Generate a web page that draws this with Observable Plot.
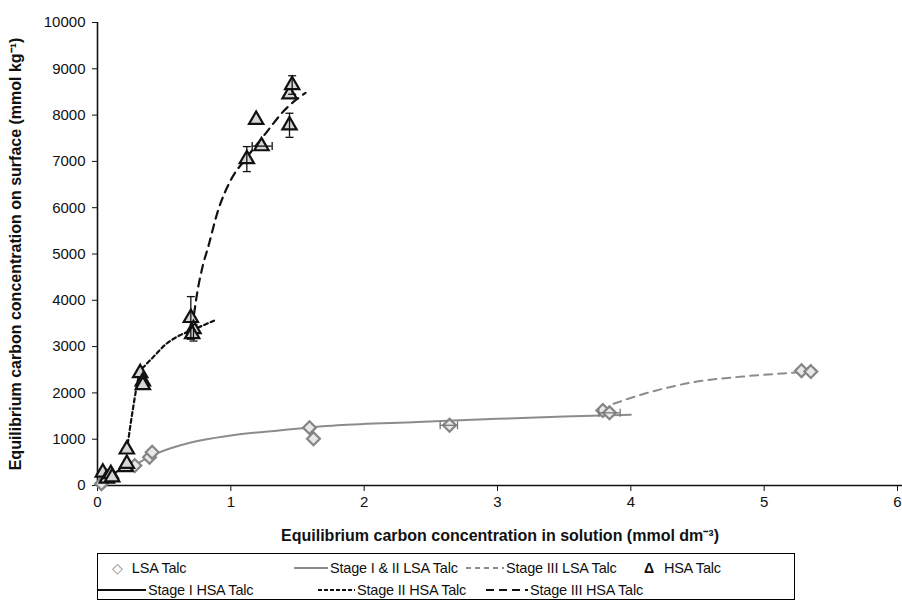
<!DOCTYPE html>
<html><head><meta charset="utf-8">
<script src="https://cdn.jsdelivr.net/npm/d3@7"></script>
<script src="https://cdn.jsdelivr.net/npm/@observablehq/plot@0.6"></script>
<style>
body{margin:0;background:#fff;font-family:"Liberation Sans",Arial,sans-serif;}
#wrap{position:relative;width:902px;height:604px;overflow:hidden;background:#fff;}
#wrap svg{position:absolute;left:0;top:0;overflow:visible;}
g[aria-label="x-axis label"] text, g[aria-label="y-axis label"] text{font-weight:bold;font-size:16px;}
#legend{position:absolute;left:97px;top:553px;width:698px;height:47px;border:1px solid #000;box-sizing:border-box;font-size:14.5px;color:#111;letter-spacing:-0.2px;}
.item{position:absolute;display:flex;align-items:center;white-space:nowrap;height:18px;}
.item svg{position:static !important;margin-right:2px;}
</style></head>
<body><div id="wrap"><div id="legend"></div></div>
<script>
// ---- data ----
const lsaX = [0.03, 0.28, 0.39, 0.41, 1.59, 1.62, 2.64, 3.79, 3.84, 5.28, 5.35];
const lsaY = [40, 430, 610, 720, 1250, 1010, 1300, 1620, 1570, 2480, 2460];
const hsaX = [0.04, 0.07, 0.10, 0.11, 0.21, 0.22, 0.22, 0.32, 0.34, 0.34, 0.70, 0.72, 0.71, 1.12, 1.23, 1.19, 1.44, 1.44, 1.46];
const hsaY = [280, 150, 250, 180, 400, 470, 780, 2430, 2250, 2170, 3620, 3380, 3270, 7050, 7330, 7900, 7780, 8450, 8650];

// vertical error bars (x, low, high)
const errVX = [0.70, 0.72, 1.12, 1.44, 1.46];
const errVLo = [3160, 3120, 6780, 7520, 8450];
const errVHi = [4080, 3480, 7320, 8040, 8850];
// horizontal error bars (y, low, high)
const errHY = [7330, 1300, 1570];
const errHLo = [1.16, 2.57, 3.76];
const errHHi = [1.31, 2.70, 3.92];
const errHColor = ["#111", "#777", "#777"];

// fitted curves
const lsaStage12X = [0.20, 0.28, 0.45, 0.70, 1.00, 1.36, 1.80, 2.40, 3.00, 3.50, 4.00];
const lsaStage12Y = [330, 450, 700, 930, 1080, 1190, 1300, 1370, 1440, 1490, 1530];
const lsaStage3X = [3.87, 4.10, 4.47, 4.84, 5.21, 5.30];
const lsaStage3Y = [1765, 1980, 2231, 2354, 2434, 2450];
const hsaStage1X = [0.03, 0.10, 0.21];
const hsaStage1Y = [120, 220, 420];
const hsaStage2X = [0.22, 0.26, 0.32, 0.36, 0.417, 0.516, 0.615, 0.713, 0.874];
const hsaStage2Y = [750, 1550, 2450, 2600, 2770, 3060, 3240, 3360, 3560];
const hsaStage3X = [0.71, 0.75, 0.79, 0.83, 0.90, 1.00, 1.11, 1.26, 1.40, 1.56];
const hsaStage3Y = [3400, 4200, 4750, 5150, 5900, 6600, 7050, 7600, 8100, 8480];

const xTicks = [0, 1, 2, 3, 4, 5, 6];
const yTicks = [0, 1000, 2000, 3000, 4000, 5000, 6000, 7000, 8000, 9000, 10000];

const legendRow1 = ["LSA Talc", "Stage I & II LSA Talc", "Stage III LSA Talc", "HSA Talc"];
const legendRow2 = ["Stage I HSA Talc", "Stage II HSA Talc", "Stage III HSA Talc"];

// ---- build tables ----
const zip = (xs, ys) => xs.map((x, i) => ({x, y: ys[i]}));
const lsa = zip(lsaX, lsaY);
const hsa = zip(hsaX, hsaY);
const errV = errVX.map((x, i) => ({x, lo: errVLo[i], hi: errVHi[i]}));
const errH = errHY.map((y, i) => ({y, lo: errHLo[i], hi: errHHi[i], c: errHColor[i]}));

const capH = {draw(ctx) { ctx.moveTo(-4, 0); ctx.lineTo(4, 0); }};
const capV = {draw(ctx) { ctx.moveTo(0, -4); ctx.lineTo(0, 4); }};

const chart = Plot.plot({
  width: 902, height: 545,
  marginLeft: 97, marginRight: 0, marginTop: 22, marginBottom: 60,
  style: {fontFamily: "'Liberation Sans', Arial, sans-serif", fontSize: "15px", color: "#111", background: "transparent"},
  x: {domain: [0, 6], range: [97, 897]},
  y: {domain: [0, 10000]},
  marks: [
    Plot.axisX({ticks: xTicks, tickSize: 6, tickPadding: 5, tickFormat: d => String(d),
      label: "Equilibrium carbon concentration in solution (mmol dm⁻³)", labelAnchor: "center", labelArrow: "none", labelOffset: 55}),
    Plot.axisY({ticks: yTicks, tickSize: 5, tickPadding: 7, tickFormat: d => String(d),
      label: "Equilibrium carbon concentration on surface (mmol kg⁻¹)", labelAnchor: "center", labelArrow: "none", labelOffset: 88}),
    Plot.ruleY([0], {x1: 0, x2: 6.1, stroke: "#111", strokeWidth: 1.6, clip: false}),
    Plot.ruleX([0], {stroke: "#111", strokeWidth: 1.6}),
    // LSA curves
    Plot.line(zip(lsaStage12X, lsaStage12Y), {x: "x", y: "y", curve: "monotone-x", stroke: "#8c8c8c", strokeWidth: 2}),
    Plot.line(zip(lsaStage3X, lsaStage3Y), {x: "x", y: "y", curve: "monotone-x", stroke: "#8c8c8c", strokeWidth: 2, strokeDasharray: "8,6"}),
    // LSA points
    Plot.dot(lsa, {x: "x", y: "y", symbol: "diamond2", r: 5.8, stroke: "#858585", strokeWidth: 2.2, fill: "#e8e8e8"}),
    // HSA curves
    Plot.line(zip(hsaStage1X, hsaStage1Y), {x: "x", y: "y", stroke: "#111", strokeWidth: 2}),
    Plot.line(zip(hsaStage2X, hsaStage2Y), {x: "x", y: "y", curve: "monotone-x", stroke: "#111", strokeWidth: 2.2, strokeDasharray: "4,3"}),
    Plot.line(zip(hsaStage3X, hsaStage3Y), {x: "x", y: "y", curve: "monotone-x", stroke: "#111", strokeWidth: 2.2, strokeDasharray: "8,6"}),
    // HSA points
    Plot.dot(hsa, {x: "x", y: "y", symbol: "triangle", r: 5.3, stroke: "#111", strokeWidth: 2.2, fill: "#d6d6d6"}),
    // error bars
    Plot.ruleX(errV, {x: "x", y1: "lo", y2: "hi", stroke: "#111", strokeWidth: 1.3}),
    Plot.dot(errV, {x: "x", y: "lo", symbol: capH, stroke: "#111", strokeWidth: 1.3}),
    Plot.dot(errV, {x: "x", y: "hi", symbol: capH, stroke: "#111", strokeWidth: 1.3}),
    Plot.ruleY(errH, {y: "y", x1: "lo", x2: "hi", stroke: "c", strokeWidth: 1.3}),
    Plot.dot(errH, {x: "lo", y: "y", symbol: capV, stroke: "c", strokeWidth: 1.3}),
    Plot.dot(errH, {x: "hi", y: "y", symbol: capV, stroke: "c", strokeWidth: 1.3})
  ]
});
document.getElementById("wrap").prepend(chart);

// ---- legend ----
function sw(kind) {
  const ns = "http://www.w3.org/2000/svg";
  if (kind.startsWith("line")) {
    const [_, color, dash, w] = kind.split("|");
    const s = document.createElementNS(ns, "svg");
    s.setAttribute("width", w); s.setAttribute("height", 10);
    const l = document.createElementNS(ns, "line");
    l.setAttribute("x1", 0); l.setAttribute("x2", w); l.setAttribute("y1", 5); l.setAttribute("y2", 5);
    l.setAttribute("stroke", color); l.setAttribute("stroke-width", 2);
    if (dash) l.setAttribute("stroke-dasharray", dash);
    s.appendChild(l);
    return s;
  }
  const sp = document.createElement("span");
  sp.textContent = kind === "diamond" ? "◇" : "Δ";
  sp.style.cssText = kind === "diamond" ? "color:#888;font-size:14px;margin-right:9px" : "color:#111;font-weight:bold;font-size:14px;margin-right:10px";
  return sp;
}
const legend = document.getElementById("legend");
const row1Keys = ["diamond", "line|#8c8c8c||34", "line|#8c8c8c|5,4|38", "triangle"];
const row1Left = [14, 196, 368, 546];
const row2Keys = ["line|#111||48", "line|#111|4,2|37", "line|#111|8,5|42"];
const row2Left = [0, 220, 388];
function addRow(labels, keys, lefts, top) {
  labels.forEach((t, i) => {
    const d = document.createElement("div");
    d.className = "item";
    d.style.left = lefts[i] + "px";
    d.style.top = top + "px";
    d.appendChild(sw(keys[i]));
    const s = document.createElement("span");
    s.textContent = t;
    d.appendChild(s);
    legend.appendChild(d);
  });
}
addRow(legendRow1, row1Keys, row1Left, 5);
addRow(legendRow2, row2Keys, row2Left, 27);
</script>
</body></html>
